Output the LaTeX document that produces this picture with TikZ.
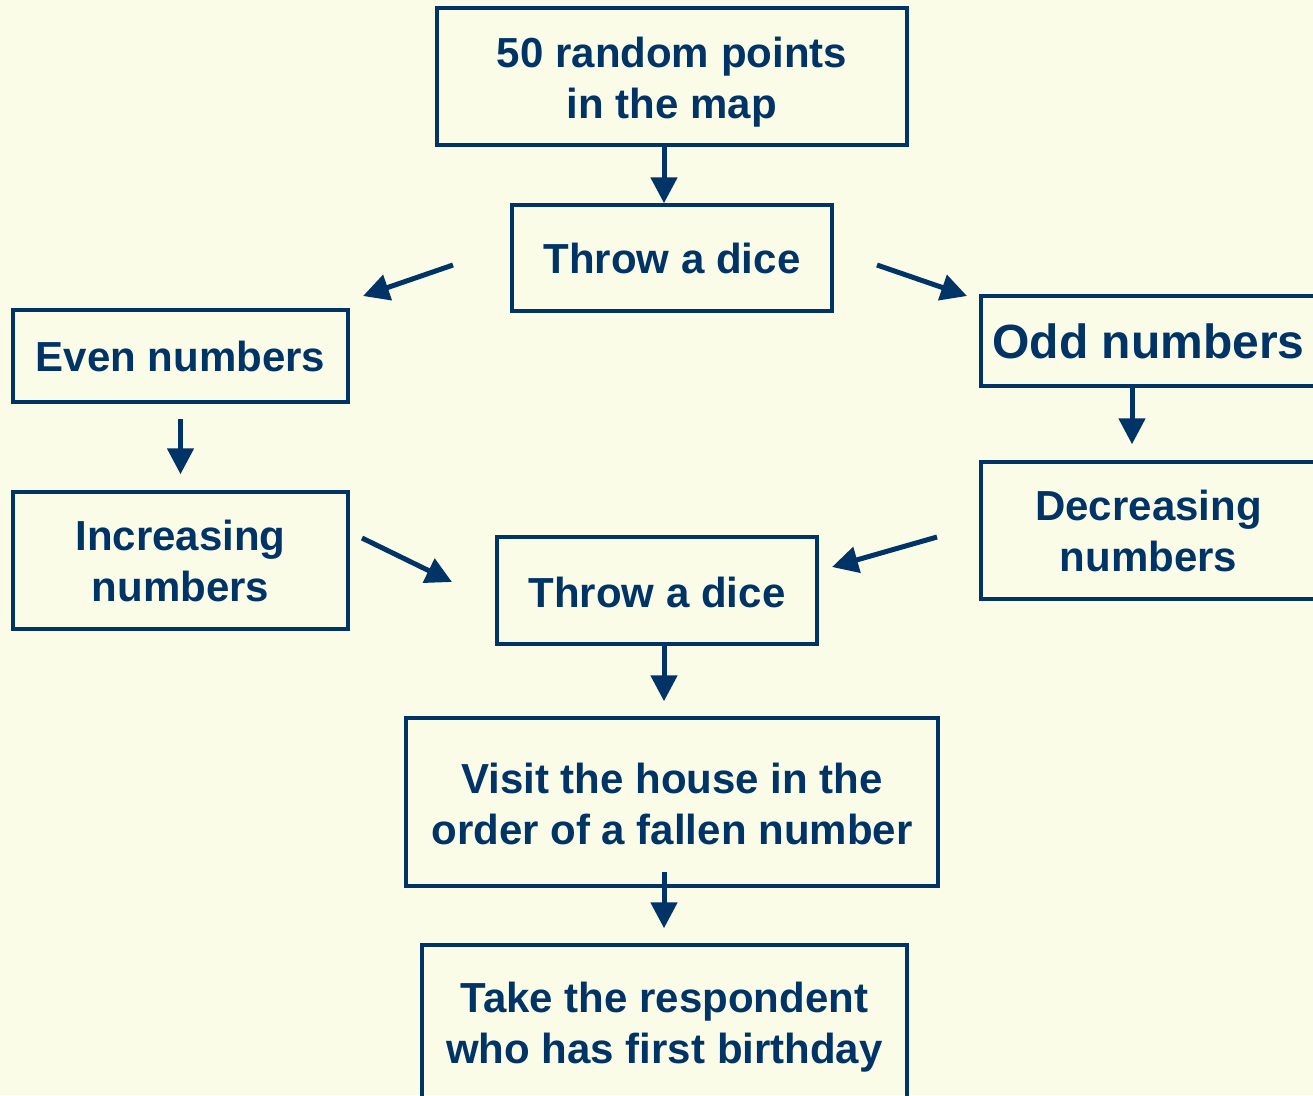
\documentclass[tikz,border=0pt]{standalone}
\usepackage{fontspec}
\setmainfont{Liberation Sans}
\usetikzlibrary{arrows.meta,positioning}
\definecolor{navy}{HTML}{003366}
\definecolor{paper}{HTML}{FAFCE8}

\begin{document}
\begin{tikzpicture}[x=1pt,y=-1pt,-{Triangle[length=26pt,width=26pt]},line width=5pt,draw=navy,
  flow node/.style={rectangle,draw=navy,line width=3.5pt,inner sep=0pt,align=center,text=navy,
    font=\fontsize{42}{51}\selectfont\bfseries}]

            \fill[paper] (0,0) rectangle (1313,1095);
            \useasboundingbox (0,0) rectangle (1313,1095);

            \node[flow node, minimum width=470, minimum height=137] (points) at (672,76.5) {\rule{0pt}{42pt}50 random points\\in the map};
            \node[flow node, minimum width=320, minimum height=106] (dice) at (672,258) {Throw a dice};
            \node[flow node, minimum width=335, minimum height=92] (even) at (180.5,356) {Even numbers};
            \node[flow node, minimum width=335, minimum height=90, font=\fontsize{48}{58}\selectfont\bfseries] (odd) at (1148.5,341) {Odd numbers};
            \node[flow node, minimum width=335, minimum height=137] (inc) at (180.5,560.5) {Increasing\\numbers};
            \node[flow node, minimum width=335, minimum height=137] (dec) at (1148.5,530.5) {Decreasing\\numbers};
            \node[flow node, minimum width=320, minimum height=107] (dice2) at (657,590.5) {\rule{0pt}{34pt}Throw a dice};
            \node[flow node, minimum width=532, minimum height=168] (visit) at (672,802) {\rule{0pt}{35pt}Visit the house in the\\order of a fallen number};
            \node[flow node, minimum width=485, minimum height=153] (take) at (664.5,1021.5) {\rule{0pt}{42pt}Take the respondent\\who has first birthday};

            % free ends of the slanted arrows
            \coordinate (evenFrom) at (453,265);
            \coordinate (evenTo) at (363,296);
            \coordinate (oddFrom) at (877,265);
            \coordinate (oddTo) at (967,296);
            \coordinate (incFrom) at (362,538);
            \coordinate (incTo) at (452,582);
            \coordinate (decFrom) at (937,537);
            \coordinate (decTo) at (832,567);

            \path
                ([xshift=-8]points.south) edge ([xshift=-8]dice.north)
                (evenFrom) edge (evenTo)
                (oddFrom) edge (oddTo)
                ([yshift=-15]even.south) edge ([yshift=16]inc.north)
                ([xshift=-16.5]odd.south) edge ([xshift=-16.5,yshift=16]dec.north)
                (incFrom) edge (incTo)
                (decFrom) edge (decTo)
                ([xshift=7]dice2.south) edge ([xshift=-8,yshift=15]visit.north)
                ([xshift=-8,yshift=16]visit.south) edge ([xshift=-0.5,yshift=15]take.north)
            ;
        \end{tikzpicture}
\end{document}
